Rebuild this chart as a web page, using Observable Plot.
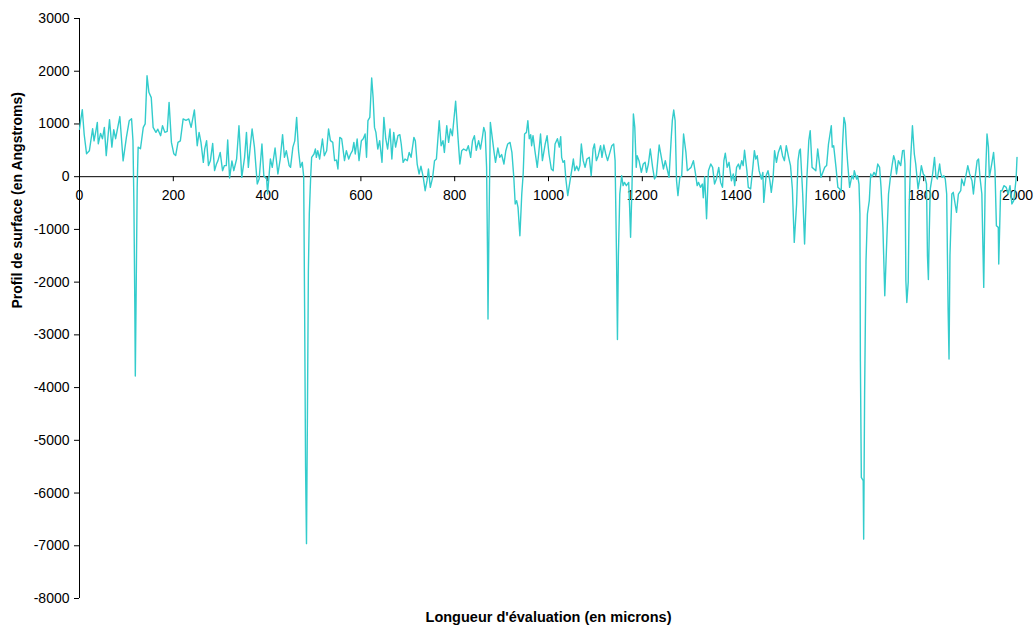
<!DOCTYPE html>
<html><head><meta charset="utf-8">
<script src="https://cdn.jsdelivr.net/npm/d3@7"></script>
<script src="https://cdn.jsdelivr.net/npm/@observablehq/plot@0.6"></script>
<style>body{margin:0;background:#fff} svg{display:block}</style>
</head><body><div id="chart"></div>
<script>
// Evaluation length (microns)
const positions = [0,3,6,10,15,21,28,31,35,38,40,45,49,53,57,64,69,73,77,86,93,100,106,111,114,116,118,119,121,123,125,130,136,140,144,148,153,157,163,167,173,177,182,187,191,196,201,205,210,215,221,227,
233,238,245,251,255,259,264,267,271,275,279,284,288,292,295,300,305,309,313,316,320,325,329,335,340,346,352,356,360,364,368,373,379,383,389,393,399,401,407,411,417,423,428,433,437,441,447,
450,455,459,463,467,471,475,478,480,482,484,486,488,490,493,495,500,503,505,508,512,518,522,527,531,535,540,544,548,551,555,559,565,569,574,578,582,585,588,592,596,601,605,609,612,615,619,623,626,629,632,636,640,645,649,653,657,662,666,670,674,679,683,686,690,694,699,703,707,713,716,720,724,728,733,737,741,744,748,753,757,761,767,771,775,778,783,787,791,795,802,807,811,815,819,825,829,834,838,842,846,851,855,859,862,865,868,870,871,873,876,880,884,887,892,896,900,905,909,913,918,922,926,929,932,935,939,943,946,949,953,956,959,962,964,967,971,976,979,983,987,993,997,1001,1006,1010,1014,1019,1023,1026,1028,1031,1034,1037,1041,1046,1050,1053,1056,1060,1064,1067,1070,1074,1078,1082,1087,1091,1095,1098,1102,1106,1111,1114,1118,1122,1126,1131,1135,1139,1142,1145,1147,1149,1152,1156,1159,1162,1166,1171,1173,1175,1178,1181,1184,1187,1189,1193,1198,1202,1206,1209,1213,1217,1222,1226,1230,1236,1240,1245,1249,1253,1257,1262,1264,1267,1270,1273,1276,1280,1284,1288,1293,1296,1300,1304,1309,1313,1317,1320,1324,1328,1330,1333,1337,1341,1346,1350,1354,1358,1363,1367,1371,1374,1377,1381,1385,1390,1394,1397,1401,1405,1408,1412,1415,1418,1423,1426,1431,1435,1439,1442,1445,1449,1454,1457,1459,1464,1468,1472,1475,1479,1482,1486,1490,1495,1499,1503,1507,1512,1516,1520,1524,1529,1532,1535,1537,1542,1546,1551,1555,1558,1562,1566,1570,1574,1577,1581,1585,1589,1593,1597,1603,1605,1608,1613,1617,1621,1624,1627,1630,1633,1635,1638,1642,1647,1650,1652,1657,1659,1662,1664,1665,1667,1671,1672,1674,1677,1680,1684,1687,1689,1691,1694,1698,1702,1706,1709,1713,1717,1721,1725,1729,1733,1736,1739,1742,1746,1751,1755,1758,1760,1762,1764,1767,1769,1772,1776,1780,1783,1788,1792,1795,1799,1802,1806,1808,1810,1812,1814,1819,1823,1826,1829,1834,1836,1839,1843,1846,1849,1852,1854,1856,1860,1863,1867,1870,1874,1879,1881,1886,1890,1894,1898,1903,1906,1910,1914,1917,1920,1924,1928,1931,1935,1938,1940,1945,1949,1952,1955,1959,1960,1964,1967,1971,1976,1980,1984,1988,1992,1997,1999];
// Surface profile (Angstroms)
const profile = [900,1100,1270,800,436,490,910,680,870,1030,625,820,720,935,400,1080,560,890,720,1140,300,745,1060,1100,680,-500,-2500,-3780,-2000,-200,560,530,935,1000,1915,1600,1500,935,840,900,778,967,840,860,1410,650,436,400,650,680,1095,1070,
1095,935,1265,588,840,650,272,525,683,210,300,630,114,240,300,460,114,210,210,695,-25,300,114,335,967,-13,367,840,177,560,905,560,-139,-44,620,19,-44,-329,335,177,544,51,335,797,367,493,210,
177,560,680,1125,493,177,272,0,-2500,-5500,-6960,-4500,-1800,-700,19,367,430,525,367,493,335,715,398,493,905,683,650,304,315,146,745,720,304,493,335,430,493,650,430,715,304,683,720,810,367,1062,1125,1872,1505,935,840,525,683,272,1125,720,525,905,335,840,560,778,797,620,272,335,304,460,367,745,683,240,51,200,-13,-266,-76,146,-202,-13,304,335,1062,588,683,460,967,650,905,778,1430,745,240,493,525,493,588,367,683,778,500,683,525,745,935,840,177,-1500,-2700,-1000,1030,745,460,272,544,367,420,240,493,620,650,460,-13,-518,-455,-582,-1119,-329,51,810,840,1062,720,797,588,778,493,177,430,810,304,620,778,430,146,114,620,720,560,760,367,272,304,-44,-360,-76,146,335,114,200,114,210,620,304,177,335,367,19,525,620,304,398,588,367,600,430,304,460,588,620,304,-1500,-3090,-1500,-329,19,-170,-108,-170,-108,-582,-1150,-202,1190,935,177,398,304,82,240,272,82,240,525,177,-44,19,600,398,146,304,146,-13,778,1062,1265,1062,-76,-360,-13,19,810,460,114,146,177,304,82,-170,-108,-202,-139,-400,0,-797,114,240,177,-139,-44,177,-108,-202,304,445,177,272,-76,51,-170,177,240,146,304,210,500,114,-202,-233,114,493,335,398,114,-44,82,-487,19,114,-76,-297,-13,493,272,460,588,398,304,588,367,210,-233,-1246,-518,304,493,525,-329,-1277,-13,683,873,177,146,114,525,304,-13,82,177,210,620,967,560,588,177,-202,-233,-297,620,1125,1000,620,240,-202,19,-44,114,-44,19,-139,-708,-3490,-5704,-5767,-6874,-4120,-1594,-708,-455,51,0,19,82,19,240,177,-202,-961,-2257,-1277,-329,-13,240,398,304,51,304,210,493,500,240,-1973,-2385,-2000,-582,304,967,430,240,-233,-13,210,51,19,-139,-1500,-1950,-1000,-233,51,367,19,-44,240,82,-13,19,-44,-329,-2500,-3458,-1500,-329,-297,-518,-676,-329,-266,-44,-170,19,210,51,-76,-329,19,304,335,-13,-329,-2100,-202,810,560,-13,240,460,114,-930,-961,-1657,-266,-266,-170,-202,-329,-170,-518,-455,-44,367];
const xTicks = [0,200,400,600,800,1000,1200,1400,1600,1800,2000];
const yTicks = [-8000,-7000,-6000,-5000,-4000,-3000,-2000,-1000,0,1000,2000,3000];
const xTitle = "Longueur d'évaluation (en microns)";
const yTitle = "Profil de surface (en Angstroms)";

const rows = positions.map((x, i) => ({x, y: profile[i]}));

const chart = Plot.plot({
  width: 1035, height: 632,
  marginLeft: 79, marginRight: 18, marginTop: 18, marginBottom: 34,
  style: {fontFamily: "Arial, 'Liberation Sans', sans-serif", fontSize: "14px", background: "#fff", color: "#000"},
  x: {domain: [0, 2000], axis: null},
  y: {domain: [-8000, 3000], axis: null},
  marks: [
    Plot.ruleY([0], {stroke: "#000"}),
    Plot.ruleX([0], {stroke: "#000"}),
    Plot.ruleX(xTicks, {x: d => d, y1: () => 0, y2: () => 0, insetBottom: -5, stroke: "#000"}),
    Plot.text(xTicks, {x: d => d, y: () => 0, dy: 19, text: d => String(d), fontSize: 14, fill: "#000"}),
    Plot.axisY({ticks: yTicks, tickSize: 5, tickPadding: 5, tickFormat: d => String(d), fontSize: 14, label: null}),
    Plot.line(rows, {x: "x", y: "y", stroke: "#33CCCC", strokeWidth: 1.4}),
    Plot.text([xTitle], {frameAnchor: "bottom", dy: 23, fontWeight: "bold", fontSize: 14.5, fill: "#000"}),
    Plot.text([yTitle], {frameAnchor: "left", dx: -62, rotate: -90, fontWeight: "bold", fontSize: 14, fill: "#000"})
  ]
});
document.getElementById("chart").appendChild(chart);
</script>
</body></html>
